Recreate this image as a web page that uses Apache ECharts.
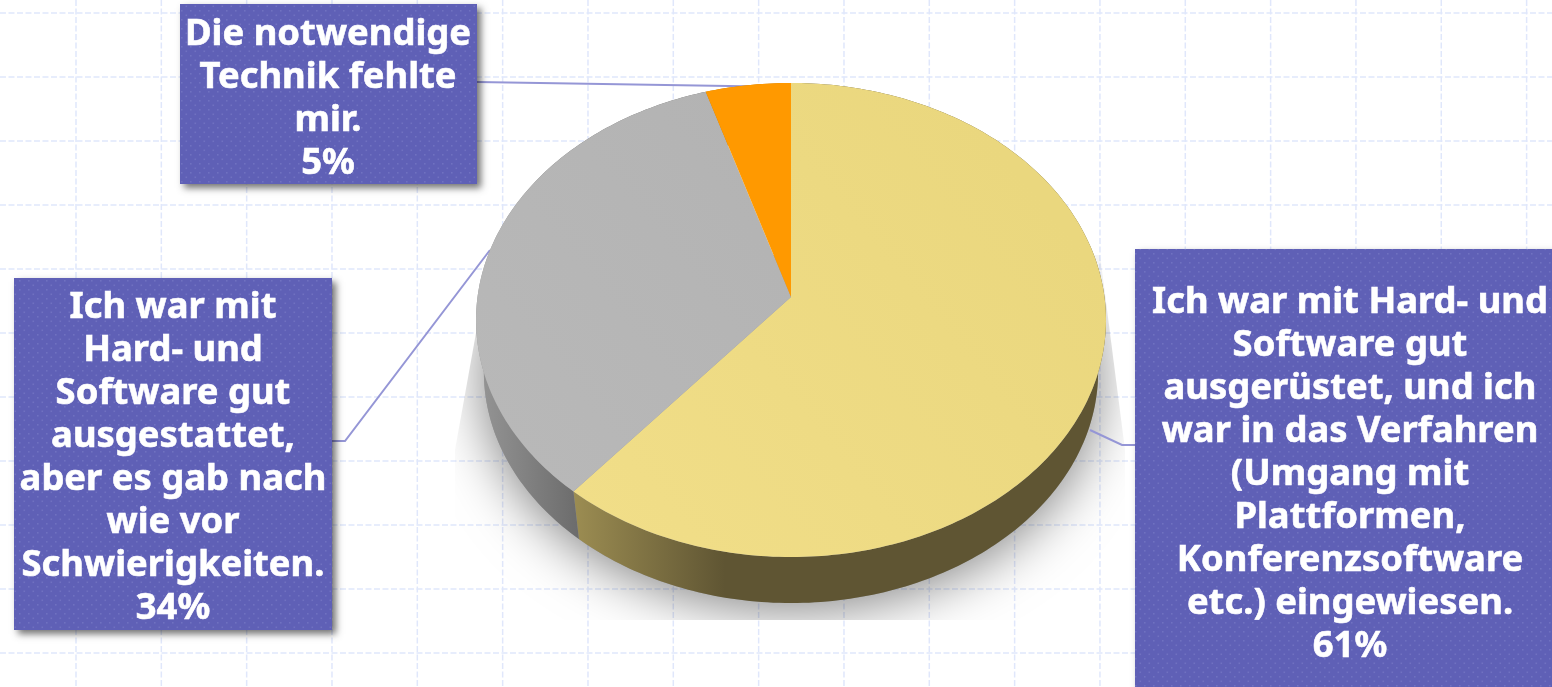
<!DOCTYPE html>
<html><head><meta charset="utf-8">
<style>html,body{margin:0;padding:0;background:#fff;overflow:hidden}#c{width:1552px;height:687px}</style>
<script src="https://cdn.jsdelivr.net/npm/echarts@6/dist/echarts.min.js"></script></head>
<body><div id="c"></div>
<script>
// --- data
const categories = [
  "Ich war mit Hard- und\nSoftware gut\nausgerüstet, und ich\nwar in das Verfahren\n(Umgang mit\nPlattformen,\nKonferenzsoftware\netc.) eingewiesen.",
  "Ich war mit\nHard- und\nSoftware gut\nausgestattet,\naber es gab nach\nwie vor\nSchwierigkeiten.",
  "Die notwendige\nTechnik fehlte\nmir."
];
const values = [61.1, 34.1, 4.8];
const percentLabels = ["61%", "34%", "5%"];
// --- styling and layout
const topColors = [["#f2df8a","#ead77e"],["#b9b9b9","#b1b1b1"],["#ff9900","#ff9900"]];
const sideColors = [["#9c8d52","#5f5533"],["#969696","#6c6c6c"],["#c77800","#c77800"]];
const boxes = [
  {x:1135,y:249,w:430,h:450,tx:1350,ty:475},
  {x:14,y:278,w:318,h:352,tx:173,ty:458.5},
  {x:180,y:4,w:297,h:180,tx:328,ty:99.5}
];
const leaders = [
  [[1090,430],[1122,445],[1135,445]],
  [[332,441],[345,441],[490,250]],
  [[477,82],[791,87]]
];
const P = {cx:791,cy:297,A:313.5,B:234.8,k:0.097,dy:52.5,s:0.975};
function proj(deg,lower){
  const a=deg*Math.PI/180,u=Math.sin(a),v=-Math.cos(a),d=1-P.k*v,s=lower?P.s:1;
  return [P.cx+s*P.A*u/d,P.cy+(lower?P.dy:0)+s*P.B*v/d];
}
function arc(a0,a1,lower){const n=Math.max(2,Math.ceil(Math.abs(a1-a0)));const r=[];
  for(let i=0;i<=n;i++)r.push(proj(a0+(a1-a0)*i/n,lower));return r;}
function range(i,api){let t=0;for(const v of values)t+=v;let s=0;for(let j=0;j<i;j++)s+=values[j];
  return [s/t*360,(s+api.value(0))/t*360];}
const tile=document.createElement('canvas');tile.width=tile.height=9;
(function(){const g=tile.getContext('2d');g.fillStyle='#5f60b6';g.fillRect(0,0,9,9);g.fillStyle='#7071c0';
  [[1,1],[5.5,5.5]].forEach(p=>g.fillRect(p[0],p[1],1.6,1.6));})();
const gridX=[],gridY=[];for(let x=76-85.33;x<1552;x+=85.33)gridX.push(x);for(let y=13;y<687;y+=64)gridY.push(y);

const bg={type:'custom',coordinateSystem:'none',silent:true,z:1,data:[0],renderItem(){
  const ch=[];const st={stroke:'#e0e7fb',lineWidth:1.5,lineDash:[6,2.5],fill:null};
  gridX.forEach(x=>ch.push({type:'line',shape:{x1:x,y1:0,x2:x,y2:687},style:st}));
  gridY.forEach(y=>ch.push({type:'line',shape:{x1:0,y1:y,x2:1552,y2:y},style:st}));
  ch.push({type:'group',clipPath:{type:'polygon',shape:{points:[[490,255],[1100,255],[1125,450],[1125,620],[455,620],[455,450]]}},
    children:[{type:'polygon',shape:{points:arc(0,360,true)},
      style:{fill:'#999',shadowBlur:55,shadowColor:'rgba(0,0,0,0.5)',shadowOffsetY:6}}]});
  return {type:'group',children:ch};
}};
const lines={type:'custom',coordinateSystem:'none',silent:true,z:2,data:[0,1,2],renderItem(p){
  return {type:'polyline',shape:{points:leaders[p.dataIndex]},style:{stroke:'#9596d6',lineWidth:2,fill:null}};
}};
const sides={type:'custom',coordinateSystem:'none',silent:true,z:3,data:values,renderItem(p,api){
  const r=range(p.dataIndex,api),c=sideColors[p.dataIndex];
  const pts=arc(r[0],r[1],false).concat(arc(r[1],r[0],true));
  const fill=p.dataIndex===0
    ?{type:'linear',x:573,y:0,x2:725,y2:0,global:true,colorStops:[{offset:0,color:c[0]},{offset:1,color:c[1]}]}
    :{type:'linear',x:476,y:0,x2:578,y2:0,global:true,colorStops:[{offset:0,color:c[0]},{offset:1,color:c[1]}]};
  return {type:'polygon',shape:{points:pts},style:{fill}};
}};
const tops={type:'custom',coordinateSystem:'none',silent:true,z:4,data:values,renderItem(p,api){
  const r=range(p.dataIndex,api),c=topColors[p.dataIndex];
  const pts=[[P.cx,P.cy]].concat(arc(r[0],r[1],false));
  return {type:'polygon',shape:{points:pts},style:{
    fill:{type:'linear',x:500,y:560,x2:1000,y2:150,global:true,colorStops:[{offset:0,color:c[0]},{offset:1,color:c[1]}]}}};
}};
const labels={type:'custom',coordinateSystem:'none',silent:true,z:5,data:values,renderItem(p,api){
  const b=boxes[p.dataIndex];
  return {type:'group',children:[
    {type:'rect',shape:{x:b.x,y:b.y,width:b.w,height:b.h},style:{fill:'#5f60b6',shadowBlur:7,shadowOffsetX:4,shadowOffsetY:4,shadowColor:'rgba(0,0,0,0.55)'}},
    {type:'rect',shape:{x:b.x,y:b.y,width:b.w,height:b.h},style:{fill:{image:tile,repeat:'repeat'}}},
    {type:'text',x:b.tx,y:b.ty,style:{text:categories[p.dataIndex]+"\n"+percentLabels[p.dataIndex],fill:'#fff',stroke:'#fff',lineWidth:0.6,
      font:'bold 36.4px "Noto Sans"',lineHeight:43,align:'center',verticalAlign:'middle'}}
  ]};
}};
const chart=echarts.init(document.getElementById('c'),null,{renderer:'canvas'});
chart.setOption({animation:false,backgroundColor:'#fff',series:[bg,lines,sides,tops,labels]});
</script></body></html>
